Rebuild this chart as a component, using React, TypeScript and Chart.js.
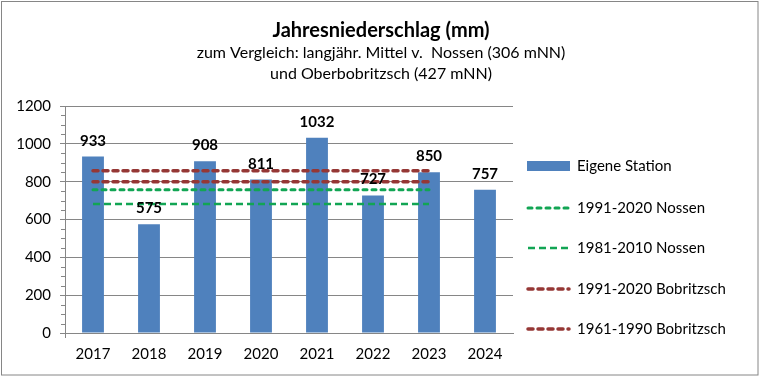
import React, { useEffect, useRef } from "react";
import { Chart, registerables } from "chart.js";
Chart.register(...registerables);

const categories = ["2017", "2018", "2019", "2020", "2021", "2022", "2023", "2024"];
const station = [933, 575, 908, 811, 1032, 727, 850, 757];
const nossen9120 = [757, 757, 757, 757, 757, 757, 757, null];
const nossen8110 = [682, 682, 682, 682, 682, 682, 682, null];
const bobritzsch9120 = [858, 858, 858, 858, 858, 858, 858, null];
const bobritzsch6190 = [800, 800, 800, 800, 800, 800, 800, null];
const titleLines = [
  "Jahresniederschlag (mm)",
  "zum Vergleich: langjähr. Mittel v.  Nossen (306 mNN)",
  "und Oberbobritzsch (427 mNN)",
];
const legendLabels = [
  "Eigene Station",
  "1991-2020 Nossen",
  "1981-2010 Nossen",
  "1991-2020 Bobritzsch",
  "1961-1990 Bobritzsch",
];
const yMin = 0;
const yMax = 1200;
const yStep = 200;
const yMinorStep = 50;

const FONT = "Lato, 'Open Sans', sans-serif";
const BLUE = "#4f81bd";
const GREEN = "#12a554";
const RED = "#953735";
const GRID = "#868686";

const decorPlugin = {
  id: "decor",
  afterDraw(chart: any) {
    const ctx = chart.ctx;
    const area = chart.chartArea;
    ctx.save();
    // outer border
    ctx.strokeStyle = GRID;
    ctx.lineWidth = 1;
    ctx.strokeRect(1.5, 1.5, 756.5, 373.5);

    // titles
    ctx.fillStyle = "#000";
    ctx.textAlign = "center";
    ctx.textBaseline = "middle";
    ctx.font = `bold 20px ${FONT}`;
    ctx.fillText(titleLines[0], 381, 31);
    ctx.font = `16px ${FONT}`;
    ctx.fillText(titleLines[1], 381, 53);
    ctx.fillText(titleLines[2], 381, 74);

    // minor ticks on y axis
    const ys = chart.scales.y;
    ctx.strokeStyle = GRID;
    ctx.lineWidth = 1;
    for (let v = yMin; v <= yMax; v += yMinorStep) {
      if (v % yStep === 0) continue;
      const py = Math.round(ys.getPixelForValue(v)) + 0.5;
      ctx.beginPath();
      ctx.moveTo(area.left - 4, py);
      ctx.lineTo(area.left, py);
      ctx.stroke();
    }
    // small extension below axis
    ctx.beginPath();
    ctx.moveTo(Math.round(area.left) + 0.5, area.bottom);
    ctx.lineTo(Math.round(area.left) + 0.5, area.bottom + 5);
    ctx.stroke();

    // legend
    const lx0 = 526;
    const lx1 = 569;
    const tx = 577;
    const rows = [166, 208, 248, 289, 329];
    ctx.textAlign = "left";
    ctx.textBaseline = "middle";
    ctx.font = `15px ${FONT}`;
    chart.data.datasets.forEach((ds: any, i: number) => {
      const y = rows[i];
      if (i === 0) {
        ctx.fillStyle = BLUE;
        ctx.fillRect(lx0 + 1, y - 5, lx1 - lx0, 10);
      } else {
        ctx.save();
        ctx.strokeStyle = ds.borderColor;
        ctx.lineWidth = ds.borderWidth;
        ctx.lineCap = ds.borderCapStyle || "butt";
        ctx.setLineDash(ds.borderDash || []);
        ctx.beginPath();
        ctx.moveTo(lx0 + 2, y);
        ctx.lineTo(lx1, y);
        ctx.stroke();
        ctx.restore();
      }
      ctx.fillStyle = "#000";
      ctx.fillText(legendLabels[i], tx, y);
    });
    ctx.restore();
  },
  afterDatasetsDraw(chart: any) {
    const ctx = chart.ctx;
    const meta = chart.getDatasetMeta(0);
    ctx.save();
    ctx.fillStyle = "#000";
    ctx.font = `bold 15px ${FONT}`;
    ctx.textAlign = "center";
    ctx.textBaseline = "alphabetic";
    meta.data.forEach((el: any, i: number) => {
      ctx.fillText(String(station[i]), el.x, el.y - 11);
    });
    ctx.restore();
  },
};

export default function App() {
  const ref = useRef<HTMLCanvasElement>(null);
  useEffect(() => {
    if (!ref.current) return;
    const lineDs = (label: string, data: any[], color: string, dash: number[], width: number, cap: string) => ({
      type: "line" as const,
      label,
      data,
      borderColor: color,
      backgroundColor: color,
      borderWidth: width,
      borderDash: dash,
      borderCapStyle: cap,
      pointRadius: 0,
      pointHoverRadius: 0,
      fill: false,
      spanGaps: false,
      order: 0,
    });
    const chart = new Chart(ref.current, {
      type: "bar",
      data: {
        labels: categories,
        datasets: [
          {
            type: "bar",
            label: legendLabels[0],
            data: station,
            backgroundColor: BLUE,
            barPercentage: 0.39,
            categoryPercentage: 1,
            order: 1,
          } as any,
          lineDs(legendLabels[1], nossen9120, GREEN, [4, 5], 3, "round"),
          lineDs(legendLabels[2], nossen8110, GREEN, [7, 4], 2.5, "butt"),
          lineDs(legendLabels[3], bobritzsch9120, RED, [5, 5], 3.5, "round"),
          lineDs(legendLabels[4], bobritzsch6190, RED, [5, 5], 3.5, "round"),
        ],
      },
      options: {
        responsive: false,
        animation: false,
        layout: { padding: { top: 106, left: 0, right: 248, bottom: 0 } },
        plugins: {
          legend: { display: false },
          title: { display: false },
          tooltip: { enabled: false },
        },
        scales: {
          x: {
            grid: { display: false, drawTicks: false },
            border: { display: true, color: GRID },
            ticks: { color: "#000", font: { family: FONT, size: 15 }, padding: 12, maxRotation: 0 },
            afterFit: (s: any) => {
              s.height = 46;
            },
          },
          y: {
            min: yMin,
            max: yMax,
            ticks: {
              stepSize: yStep,
              color: "#000",
              font: { family: FONT, size: 15 },
              padding: 9,
              callback: (v: any) => String(v),
            },
            grid: { color: GRID, tickLength: 5 },
            border: { display: true, color: GRID },
            afterFit: (s: any) => {
              s.width = 65;
            },
          },
        },
      } as any,
      plugins: [decorPlugin],
    });
    return () => chart.destroy();
  }, []);
  return (
    <div style={{ position: "absolute", left: 0, top: 0, width: 761, height: 379, background: "#fff" }}>
      <canvas ref={ref} width={761} height={379} style={{ display: "block" }} />
    </div>
  );
}
